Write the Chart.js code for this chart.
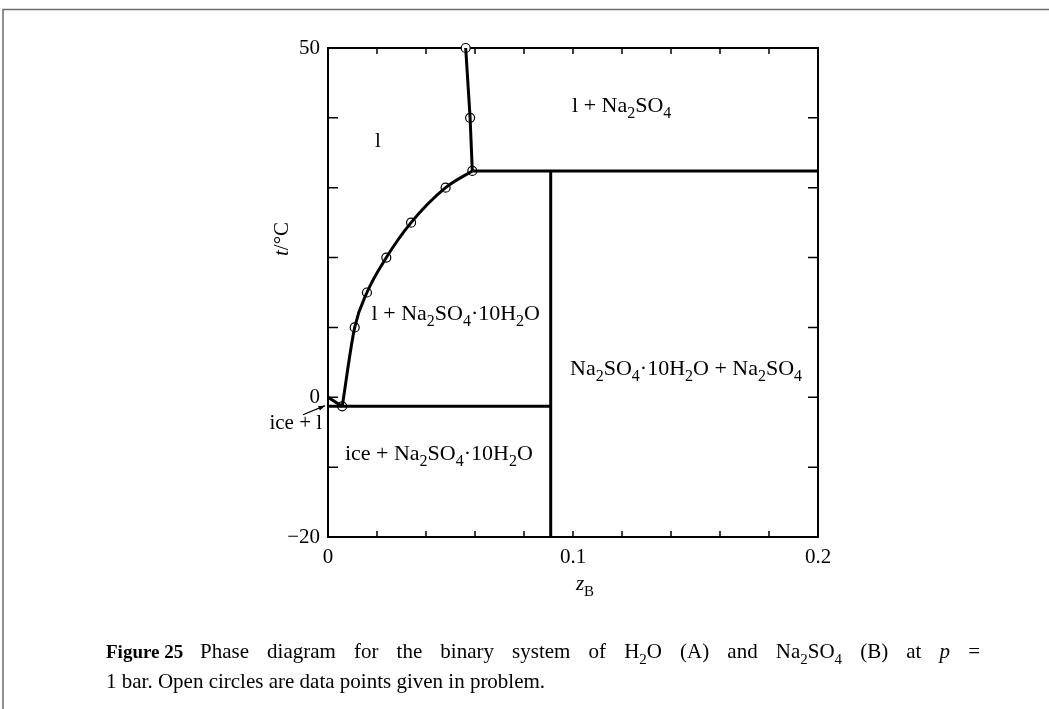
<!DOCTYPE html>
<html>
<head>
<meta charset="utf-8">
<title>Phase diagram H2O - Na2SO4</title>
<script src="https://cdn.jsdelivr.net/npm/chart.js@4.4.0/dist/chart.umd.min.js"></script>
<style>
  body { margin: 0; background: #fff; }
  canvas { display: block; }
</style>
</head>
<body>
<canvas id="phaseChart" width="1049" height="709"></canvas>
<script>
// data points (z_B, t/°C)
const zPoints = [0.0058, 0.0109, 0.0159, 0.0238, 0.0339, 0.048, 0.0589, 0.058, 0.0562];
const tPoints = [-1.3, 10, 15, 20, 25, 30, 32.4, 40, 50];

// phase boundaries
const zHydrate = 0.0909;      // Na2SO4·10H2O
const tEutectic = -1.3;
const tPeritectic = 32.4;
const zPeritectic = 0.0589;
const iceLineZ = [0, 0.0058];
const iceLineT = [0, -1.3];

const xRange = [0, 0.2];
const yRange = [-20, 50];
const xTickLabels = [0, 0.1, 0.2];
const yTickLabels = [50, 0, -20];

const FONT = "'Liberation Serif', 'Times New Roman', serif";

const pts = (zs, ts) => zs.map((z, i) => ({ x: z, y: ts[i] }));

const lineStyle = {
  showLine: true,
  borderColor: '#000',
  borderWidth: 3,
  pointRadius: 0,
  fill: false
};

// split points: hydrate liquidus (first 7) and Na2SO4 liquidus (last 3)
const hydrateCurve = pts(zPoints.slice(0, 7), tPoints.slice(0, 7));
const saltCurve = pts(zPoints.slice(6), tPoints.slice(6));

// text made of runs: [text, kind] kind = n | sub | i | b
function fontFor(kind, size) {
  if (kind === 'sub') return Math.round(size * 0.72) + 'px ' + FONT;
  if (kind === 'i') return 'italic ' + size + 'px ' + FONT;
  if (kind === 'b') return 'bold ' + size + 'px ' + FONT;
  return size + 'px ' + FONT;
}
function richWidth(ctx, runs, size) {
  let w = 0;
  runs.forEach(([t, k]) => {
    ctx.font = fontFor(k, size);
    w += ctx.measureText(t).width;
  });
  return w;
}
function drawRich(ctx, x, y, runs, size, align) {
  const w = richWidth(ctx, runs, size);
  let cx = align === 'center' ? x - w / 2 : align === 'right' ? x - w : x;
  ctx.textBaseline = 'alphabetic';
  ctx.textAlign = 'left';
  ctx.fillStyle = '#000';
  runs.forEach(([t, k]) => {
    ctx.font = fontFor(k, size);
    const dy = k === 'sub' ? size * 0.28 : 0;
    ctx.fillText(t, cx, y + dy);
    cx += ctx.measureText(t).width;
  });
}
// justified line: words spread between x0 and x1
function drawJustified(ctx, x0, x1, y, words, size) {
  const widths = words.map(w => richWidth(ctx, w, size));
  const total = widths.reduce((s, v) => s + v, 0);
  const gap = (x1 - x0 - total) / (words.length - 1);
  let cx = x0;
  words.forEach((w, i) => {
    drawRich(ctx, cx, y, w, size, 'left');
    cx += widths[i] + gap;
  });
}

const regionLabels = [
  { z: 0.0204, t: 36.8, align: 'center', runs: [['l', 'n']] },
  { z: 0.0996, t: 41.8, align: 'left', runs: [['l + Na', 'n'], ['2', 'sub'], ['SO', 'n'], ['4', 'sub']] },
  { z: 0.0178, t: 12.1, align: 'left', runs: [['l + Na', 'n'], ['2', 'sub'], ['SO', 'n'], ['4', 'sub'], ['\u00b710H', 'n'], ['2', 'sub'], ['O', 'n']] },
  { z: 0.0988, t: 4.2, align: 'left', runs: [['Na', 'n'], ['2', 'sub'], ['SO', 'n'], ['4', 'sub'], ['\u00b710H', 'n'], ['2', 'sub'], ['O + Na', 'n'], ['2', 'sub'], ['SO', 'n'], ['4', 'sub']] },
  { z: 0.0069, t: -8.0, align: 'left', runs: [['ice + Na', 'n'], ['2', 'sub'], ['SO', 'n'], ['4', 'sub'], ['\u00b710H', 'n'], ['2', 'sub'], ['O', 'n']] },
  { z: -0.0024, t: -3.5, align: 'right', runs: [['ice + l', 'n']] }
];

const captionWords = [
  [['Phase', 'n']], [['diagram', 'n']], [['for', 'n']], [['the', 'n']], [['binary', 'n']],
  [['system', 'n']], [['of', 'n']], [['H', 'n'], ['2', 'sub'], ['O', 'n']], [['(A)', 'n']],
  [['and', 'n']], [['Na', 'n'], ['2', 'sub'], ['SO', 'n'], ['4', 'sub']], [['(B)', 'n']],
  [['at', 'n']], [['p', 'i']], [['=', 'n']]
];

const decorPlugin = {
  id: 'decor',
  beforeDatasetsDraw(chart) {
    const { ctx, chartArea: a, scales } = chart;
    ctx.save();
    // outer figure frame (top and left)
    ctx.strokeStyle = '#6b6b6b';
    ctx.lineWidth = 1.5;
    ctx.beginPath();
    ctx.moveTo(3, 709);
    ctx.lineTo(3, 9.5);
    ctx.lineTo(1049, 9.5);
    ctx.stroke();
    // plot box
    ctx.strokeStyle = '#000';
    ctx.lineWidth = 2;
    ctx.strokeRect(a.left, a.top, a.right - a.left, a.bottom - a.top);
    // inward ticks on all four sides
    ctx.lineWidth = 1.5;
    ctx.beginPath();
    scales.x.ticks.forEach(tk => {
      const px = scales.x.getPixelForValue(tk.value);
      ctx.moveTo(px, a.bottom); ctx.lineTo(px, a.bottom - 6);
      ctx.moveTo(px, a.top); ctx.lineTo(px, a.top + 6);
    });
    scales.y.ticks.forEach(tk => {
      const py = scales.y.getPixelForValue(tk.value);
      ctx.moveTo(a.left, py); ctx.lineTo(a.left + 10, py);
      ctx.moveTo(a.right, py); ctx.lineTo(a.right - 10, py);
    });
    ctx.stroke();
    ctx.restore();
  },
  afterDraw(chart) {
    const { ctx, chartArea: a, scales } = chart;
    ctx.save();
    regionLabels.forEach(lb => {
      const x = scales.x.getPixelForValue(lb.z);
      const y = scales.y.getPixelForValue(lb.t) + 7;
      drawRich(ctx, x, y, lb.runs, lb.runs.length > 1 ? 22 : 21, lb.align);
    });
    // arrow from "ice + l" into the small region
    const ax0 = scales.x.getPixelForValue(-0.0102), ay0 = scales.y.getPixelForValue(-2.5);
    const ax1 = scales.x.getPixelForValue(-0.0012), ay1 = scales.y.getPixelForValue(-1.2);
    ctx.strokeStyle = '#000';
    ctx.fillStyle = '#000';
    ctx.lineWidth = 1.2;
    ctx.beginPath(); ctx.moveTo(ax0, ay0); ctx.lineTo(ax1, ay1); ctx.stroke();
    const ang = Math.atan2(ay1 - ay0, ax1 - ax0);
    ctx.beginPath();
    ctx.moveTo(ax1, ay1);
    ctx.lineTo(ax1 - 7 * Math.cos(ang - 0.35), ay1 - 7 * Math.sin(ang - 0.35));
    ctx.lineTo(ax1 - 7 * Math.cos(ang + 0.35), ay1 - 7 * Math.sin(ang + 0.35));
    ctx.closePath(); ctx.fill();

    // y axis title, rotated
    ctx.save();
    ctx.translate(a.left - 40, a.top + 191);
    ctx.rotate(-Math.PI / 2);
    drawRich(ctx, 0, 0, [['t', 'i'], ['/\u00b0C', 'n']], 21, 'center');
    ctx.restore();
    // x axis title
    drawRich(ctx, (a.left + a.right) / 2 + 12, a.bottom + 53, [['z', 'i'], ['B', 'sub']], 21, 'center');

    // caption
    drawRich(ctx, 106, 658, [['Figure 25', 'b']], 19, 'left');
    drawJustified(ctx, 200, 980, 658, captionWords, 21);
    drawRich(ctx, 106, 688, [['1 bar. Open circles are data points given in problem.', 'n']], 21, 'left');
    ctx.restore();
  }
};

new Chart(document.getElementById('phaseChart'), {
  type: 'scatter',
  data: {
    datasets: [
      Object.assign({ data: hydrateCurve, cubicInterpolationMode: 'monotone' }, lineStyle),
      Object.assign({ data: saltCurve }, lineStyle),
      Object.assign({ data: pts(iceLineZ, iceLineT) }, lineStyle),
      Object.assign({ data: [{ x: 0, y: tEutectic }, { x: zHydrate, y: tEutectic }] }, lineStyle),
      Object.assign({ data: [{ x: zHydrate, y: yRange[0] }, { x: zHydrate, y: tPeritectic }] }, lineStyle),
      Object.assign({ data: [{ x: zPeritectic, y: tPeritectic }, { x: xRange[1], y: tPeritectic }] }, lineStyle),
      {
        data: pts(zPoints, tPoints),
        showLine: false,
        pointRadius: 4.5,
        pointBackgroundColor: '#fff',
        pointBorderColor: '#000',
        pointBorderWidth: 1.2,
        clip: false
      }
    ]
  },
  options: {
    responsive: false,
    devicePixelRatio: 1,
    animation: false,
    layout: { padding: { left: 0, top: 48, right: 231, bottom: 132 } },
    plugins: { legend: { display: false }, tooltip: { enabled: false } },
    scales: {
      x: {
        type: 'linear',
        min: xRange[0],
        max: xRange[1],
        grid: { display: false, drawTicks: false },
        border: { display: false },
        afterFit: s => { s.height = 40; },
        ticks: {
          stepSize: 0.02,
          autoSkip: false,
          maxRotation: 0,
          padding: 8,
          color: '#000',
          font: { family: FONT, size: 21 },
          callback: v => {
            const hit = xTickLabels.find(l => Math.abs(l - v) < 1e-9);
            return hit === undefined ? '' : String(hit);
          }
        }
      },
      y: {
        type: 'linear',
        min: yRange[0],
        max: yRange[1],
        grid: { display: false, drawTicks: false },
        border: { display: false },
        afterFit: s => { s.width = 328; },
        ticks: {
          stepSize: 10,
          autoSkip: false,
          padding: 8,
          color: '#000',
          font: { family: FONT, size: 21 },
          callback: v => yTickLabels.includes(v) ? (v < 0 ? '\u2212' + Math.abs(v) : String(v)) : ''
        }
      }
    }
  },
  plugins: [decorPlugin]
});
</script>
</body>
</html>
